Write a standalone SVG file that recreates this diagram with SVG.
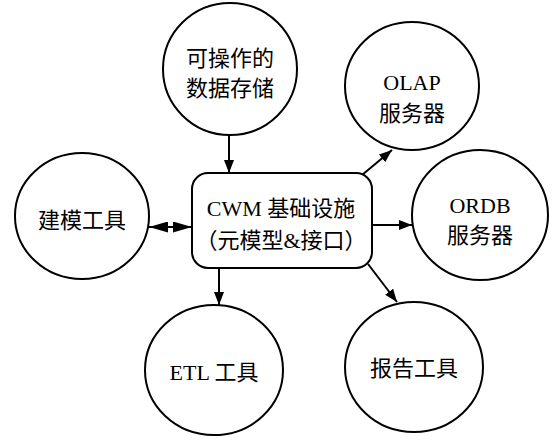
<svg xmlns="http://www.w3.org/2000/svg" width="557" height="440" viewBox="0 0 557 440">
<style>
.n{fill:#fff;stroke:#000;stroke-width:2}
.t{font-family:"Liberation Serif","Noto Sans CJK SC",serif;font-size:22px;fill:#000;text-anchor:middle;dominant-baseline:central}
.c{stroke:#000;stroke-width:2;fill:none}
</style>
<defs>
<marker id="ah" viewBox="0 0 13 10" refX="13" refY="5" markerWidth="13" markerHeight="10" markerUnits="userSpaceOnUse" orient="auto-start-reverse">
<path d="M0,0 L13,5 L0,10 Z" fill="#000"/>
</marker>
<marker id="ah2" viewBox="0 0 19 11" refX="19" refY="5.5" markerWidth="19" markerHeight="11" markerUnits="userSpaceOnUse" orient="auto-start-reverse">
<path d="M0,0 L19,5.5 L0,11 Z" fill="#000"/>
</marker>
</defs>
<rect width="557" height="440" fill="#fff"/>
<g id="connectors">
<line class="c" x1="229" y1="135" x2="229" y2="173" marker-end="url(#ah)"/>
<line class="c" x1="149" y1="227" x2="192" y2="227" marker-start="url(#ah2)" marker-end="url(#ah2)"/>
<line class="c" x1="362" y1="175" x2="392" y2="150" marker-end="url(#ah)"/>
<line class="c" x1="372" y1="225" x2="412" y2="225" marker-end="url(#ah)"/>
<line class="c" x1="219" y1="268" x2="219" y2="305" marker-end="url(#ah)"/>
<line class="c" x1="368" y1="264" x2="397" y2="302" marker-end="url(#ah)"/>
</g>
<g id="store">
<ellipse class="n" cx="230" cy="69" rx="67" ry="66"/>
<text class="t" x="230" y="58">可操作的</text>
<text class="t" x="230" y="88">数据存储</text>
</g>
<g id="cwm">
<rect class="n" x="192" y="173" width="180" height="95" rx="16"/>
<text class="t" x="281" y="208">CWM 基础设施</text>
<text class="t" x="281" y="240">（元模型&amp;接口）</text>
</g>
<g id="modeling">
<ellipse class="n" cx="82" cy="216" rx="67" ry="63"/>
<text class="t" x="82" y="220">建模工具</text>
</g>
<g id="olap">
<ellipse class="n" cx="412" cy="86" rx="67" ry="64"/>
<text class="t" x="412" y="82">OLAP</text>
<text class="t" x="412" y="113">服务器</text>
</g>
<g id="ordb">
<ellipse class="n" cx="480" cy="215" rx="68" ry="65"/>
<text class="t" x="480" y="205">ORDB</text>
<text class="t" x="480" y="235">服务器</text>
</g>
<g id="etl">
<ellipse class="n" cx="214" cy="370" rx="69" ry="65"/>
<text class="t" x="214" y="372">ETL 工具</text>
</g>
<g id="report">
<ellipse class="n" cx="414" cy="367" rx="69" ry="65"/>
<text class="t" x="414" y="368">报告工具</text>
</g>
</svg>
